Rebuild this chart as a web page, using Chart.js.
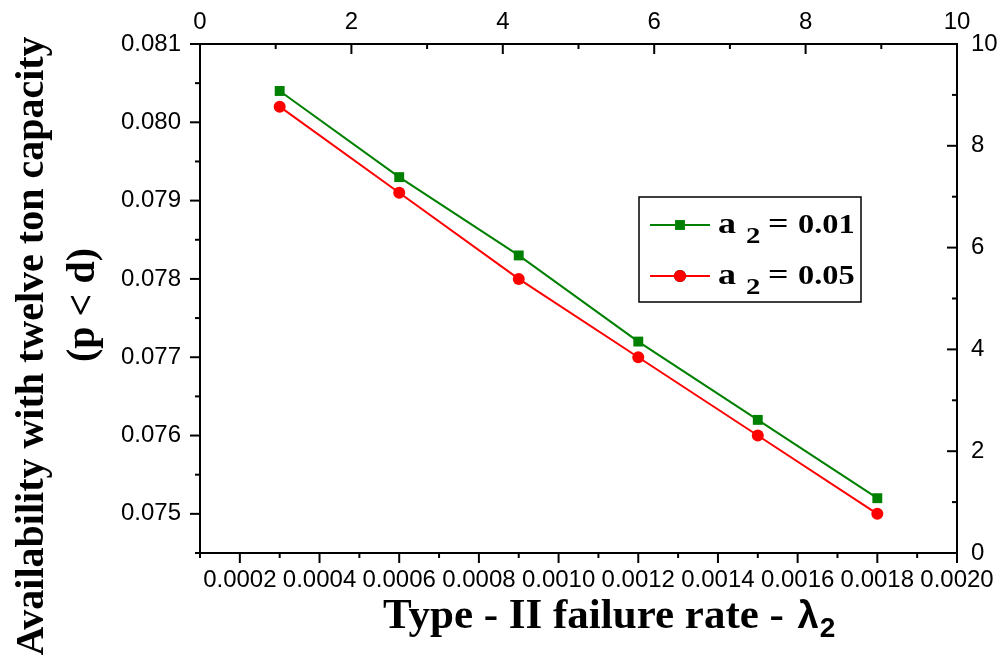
<!DOCTYPE html>
<html>
<head>
<meta charset="utf-8">
<script src="https://cdn.jsdelivr.net/npm/chart.js@4/dist/chart.umd.min.js"></script>
<style>
  html, body { margin: 0; padding: 0; background: #ffffff; }
  canvas { display: block; }
</style>
</head>
<body>
<canvas id="chart" width="999" height="660"></canvas>
<script>
// Type-II failure rate (lambda 2) values
const lambda2 = [0.0003, 0.0006, 0.0009, 0.0012, 0.0015, 0.0018];
// Availability with twelve ton capacity for a2 = 0.01 and a2 = 0.05
const availA2_001 = [0.0804, 0.0793, 0.0783, 0.0772, 0.0762, 0.0752];
const availA2_005 = [0.0802, 0.0791, 0.0780, 0.0770, 0.0760, 0.0750];
const a2Labels = ['0.01', '0.05'];

// Axis ticks
const bottomTicks = [0.0002, 0.0004, 0.0006, 0.0008, 0.0010, 0.0012, 0.0014, 0.0016, 0.0018, 0.0020];
const bottomMinor = [0.0001, 0.0003, 0.0005, 0.0007, 0.0009, 0.0011, 0.0013, 0.0015, 0.0017, 0.0019];
const leftTicks = [0.075, 0.076, 0.077, 0.078, 0.079, 0.080, 0.081];
const leftMinor = [0.0745, 0.0755, 0.0765, 0.0775, 0.0785, 0.0795, 0.0805];
const topTicks = [0, 2, 4, 6, 8, 10];
const topMinor = [1, 3, 5, 7, 9];
const rightTicks = [0, 2, 4, 6, 8, 10];
const rightMinor = [1, 3, 5, 7, 9];

const SERIF = '"Liberation Serif", "Times New Roman", serif';
const SANS = '"Liberation Sans", Arial, sans-serif';
const TICK_SIZE = 24;

const toPoints = (xs, ys) => xs.map((x, i) => ({ x: x, y: ys[i] }));

// Tick marks: outward on bottom/left, inward on top/right
const tickMarks = {
  id: 'tickMarks',
  afterDraw(chart) {
    const { ctx, chartArea: a } = chart;
    const { x, x2, y, y2 } = chart.scales;
    ctx.save();
    ctx.strokeStyle = '#000';
    ctx.lineWidth = 2;
    const seg = (x1, y1, xb, yb) => { ctx.beginPath(); ctx.moveTo(x1, y1); ctx.lineTo(xb, yb); ctx.stroke(); };
    bottomTicks.forEach(v => { const p = x.getPixelForValue(v); seg(p, a.bottom, p, a.bottom + 10); });
    bottomMinor.forEach(v => { const p = x.getPixelForValue(v); seg(p, a.bottom, p, a.bottom + 5); });
    topTicks.forEach(v => { const p = x2.getPixelForValue(v); seg(p, a.top, p, a.top + 10); });
    topMinor.forEach(v => { const p = x2.getPixelForValue(v); seg(p, a.top, p, a.top + 5); });
    leftTicks.forEach(v => { const p = y.getPixelForValue(v); seg(a.left - 10, p, a.left, p); });
    leftMinor.forEach(v => { const p = y.getPixelForValue(v); seg(a.left - 5, p, a.left, p); });
    rightTicks.forEach(v => { const p = y2.getPixelForValue(v); seg(a.right, p, a.right - 10, p); });
    rightMinor.forEach(v => { const p = y2.getPixelForValue(v); seg(a.right, p, a.right - 5, p); });
    ctx.restore();
  }
};

// Axis titles with subscripts
const axisTitles = {
  id: 'axisTitles',
  afterDraw(chart) {
    const ctx = chart.ctx;
    ctx.save();
    ctx.fillStyle = '#000';

    // x title: "Type - II failure rate - λ2"
    ctx.textBaseline = 'alphabetic';
    ctx.textAlign = 'left';
    ctx.font = 'bold 43px ' + SERIF;
    const main = 'Type - II failure rate - ';
    let tx = 383;
    ctx.fillText(main, tx, 628);
    tx += ctx.measureText(main).width + 3;
    ctx.font = 'bold 38px ' + SANS;
    ctx.fillText('λ', tx, 628);
    tx += ctx.measureText('λ').width + 1;
    ctx.font = 'bold 28px ' + SANS;
    ctx.fillText('2', tx, 637);

    // y title, two rotated lines
    ctx.font = 'bold 40px ' + SERIF;
    ctx.textAlign = 'center';
    ctx.textBaseline = 'middle';
    ctx.save();
    ctx.translate(33, 346);
    ctx.rotate(-Math.PI / 2);
    ctx.fillText('Availability with twelve ton capacity', 0, 0);
    ctx.restore();
    ctx.save();
    ctx.translate(84, 305);
    ctx.rotate(-Math.PI / 2);
    ctx.fillText('(p < d)', 0, 0);
    ctx.restore();

    ctx.restore();
  }
};

// Boxed legend with subscripted labels
const boxLegend = {
  id: 'boxLegend',
  afterDraw(chart) {
    const ctx = chart.ctx;
    const bx = 639, by = 197, bw = 222, bh = 105;
    ctx.save();
    ctx.fillStyle = '#fff';
    ctx.fillRect(bx, by, bw, bh);
    ctx.strokeStyle = '#000';
    ctx.lineWidth = 1.5;
    ctx.strokeRect(bx, by, bw, bh);
    const rows = [225, 276];
    // draws text stretched horizontally, left edge at x
    const wide = (text, x, yb, font) => {
      ctx.save();
      ctx.font = font;
      ctx.translate(x, yb);
      ctx.scale(1.2, 1);
      ctx.fillText(text, 0, 0);
      ctx.restore();
    };
    chart.data.datasets.forEach((ds, i) => {
      const cy = rows[i];
      ctx.strokeStyle = ds.borderColor;
      ctx.lineWidth = 2;
      ctx.beginPath();
      ctx.moveTo(bx + 11, cy);
      ctx.lineTo(bx + 71, cy);
      ctx.stroke();
      Chart.helpers.drawPoint(ctx, {
        pointStyle: ds.pointStyle,
        radius: ds.pointRadius,
        borderWidth: 0,
        rotation: 0
      }, bx + 41, cy);
      ctx.fillStyle = ds.backgroundColor;
      ctx.fill();

      ctx.fillStyle = '#000';
      ctx.textAlign = 'left';
      ctx.textBaseline = 'alphabetic';
      const base = cy + 8;
      wide('a', bx + 79, base, 'bold 30px ' + SERIF);
      wide('2', bx + 107, base + 10, 'bold 24px ' + SERIF);
      wide('=', bx + 129, base, 'bold 30px ' + SERIF);
      wide(a2Labels[i], bx + 159, base, 'bold 27px ' + SERIF);
    });
    ctx.restore();
  }
};

const axisBase = {
  grid: { display: false, drawTicks: false },
  border: { display: true, color: '#000', width: 2 }
};

new Chart(document.getElementById('chart'), {
  type: 'line',
  data: {
    datasets: [
      {
        label: 'a2 = ' + a2Labels[0],
        data: toPoints(lambda2, availA2_001),
        borderColor: '#008000',
        backgroundColor: '#008000',
        borderWidth: 2,
        pointStyle: 'rect',
        pointRadius: 7,
        pointBorderWidth: 0,
        tension: 0,
        xAxisID: 'x',
        yAxisID: 'y'
      },
      {
        label: 'a2 = ' + a2Labels[1],
        data: toPoints(lambda2, availA2_005),
        borderColor: '#ff0000',
        backgroundColor: '#ff0000',
        borderWidth: 2,
        pointStyle: 'circle',
        pointRadius: 6,
        pointBorderWidth: 0,
        tension: 0,
        xAxisID: 'x',
        yAxisID: 'y'
      }
    ]
  },
  options: {
    responsive: false,
    animation: false,
    layout: { padding: 0 },
    plugins: { legend: { display: false }, tooltip: { enabled: false } },
    scales: {
      x: {
        ...axisBase,
        type: 'linear',
        position: 'bottom',
        min: 0.0001,
        max: 0.002,
        ticks: { color: '#000', font: { family: SANS, size: TICK_SIZE }, padding: 13, maxRotation: 0, autoSkip: false,
                 callback: v => v.toFixed(4) },
        afterBuildTicks: s => { s.ticks = bottomTicks.map(v => ({ value: v })); },
        afterFit: s => { s.height = 107; s.paddingLeft = 0; s.paddingRight = 0; }
      },
      x2: {
        ...axisBase,
        type: 'linear',
        position: 'top',
        min: 0,
        max: 10,
        ticks: { color: '#000', font: { family: SANS, size: TICK_SIZE }, padding: 7, maxRotation: 0, autoSkip: false,
                 callback: v => String(v) },
        afterBuildTicks: s => { s.ticks = topTicks.map(v => ({ value: v })); },
        afterFit: s => { s.height = 44; s.paddingLeft = 0; s.paddingRight = 0; }
      },
      y: {
        ...axisBase,
        type: 'linear',
        position: 'left',
        min: 0.0745,
        max: 0.081,
        ticks: { color: '#000', font: { family: SANS, size: TICK_SIZE }, padding: 19, autoSkip: false,
                 callback: v => v.toFixed(3) },
        afterBuildTicks: s => { s.ticks = leftTicks.map(v => ({ value: v })); },
        afterFit: s => { s.width = 200; s.paddingTop = 0; s.paddingBottom = 0; }
      },
      y2: {
        ...axisBase,
        type: 'linear',
        position: 'right',
        min: 0,
        max: 10,
        ticks: { color: '#000', font: { family: SANS, size: TICK_SIZE }, padding: 14, autoSkip: false,
                 callback: v => String(v) },
        afterBuildTicks: s => { s.ticks = rightTicks.map(v => ({ value: v })); },
        afterFit: s => { s.width = 42; s.paddingTop = 0; s.paddingBottom = 0; }
      }
    }
  },
  plugins: [tickMarks, axisTitles, boxLegend]
});
</script>
</body>
</html>
